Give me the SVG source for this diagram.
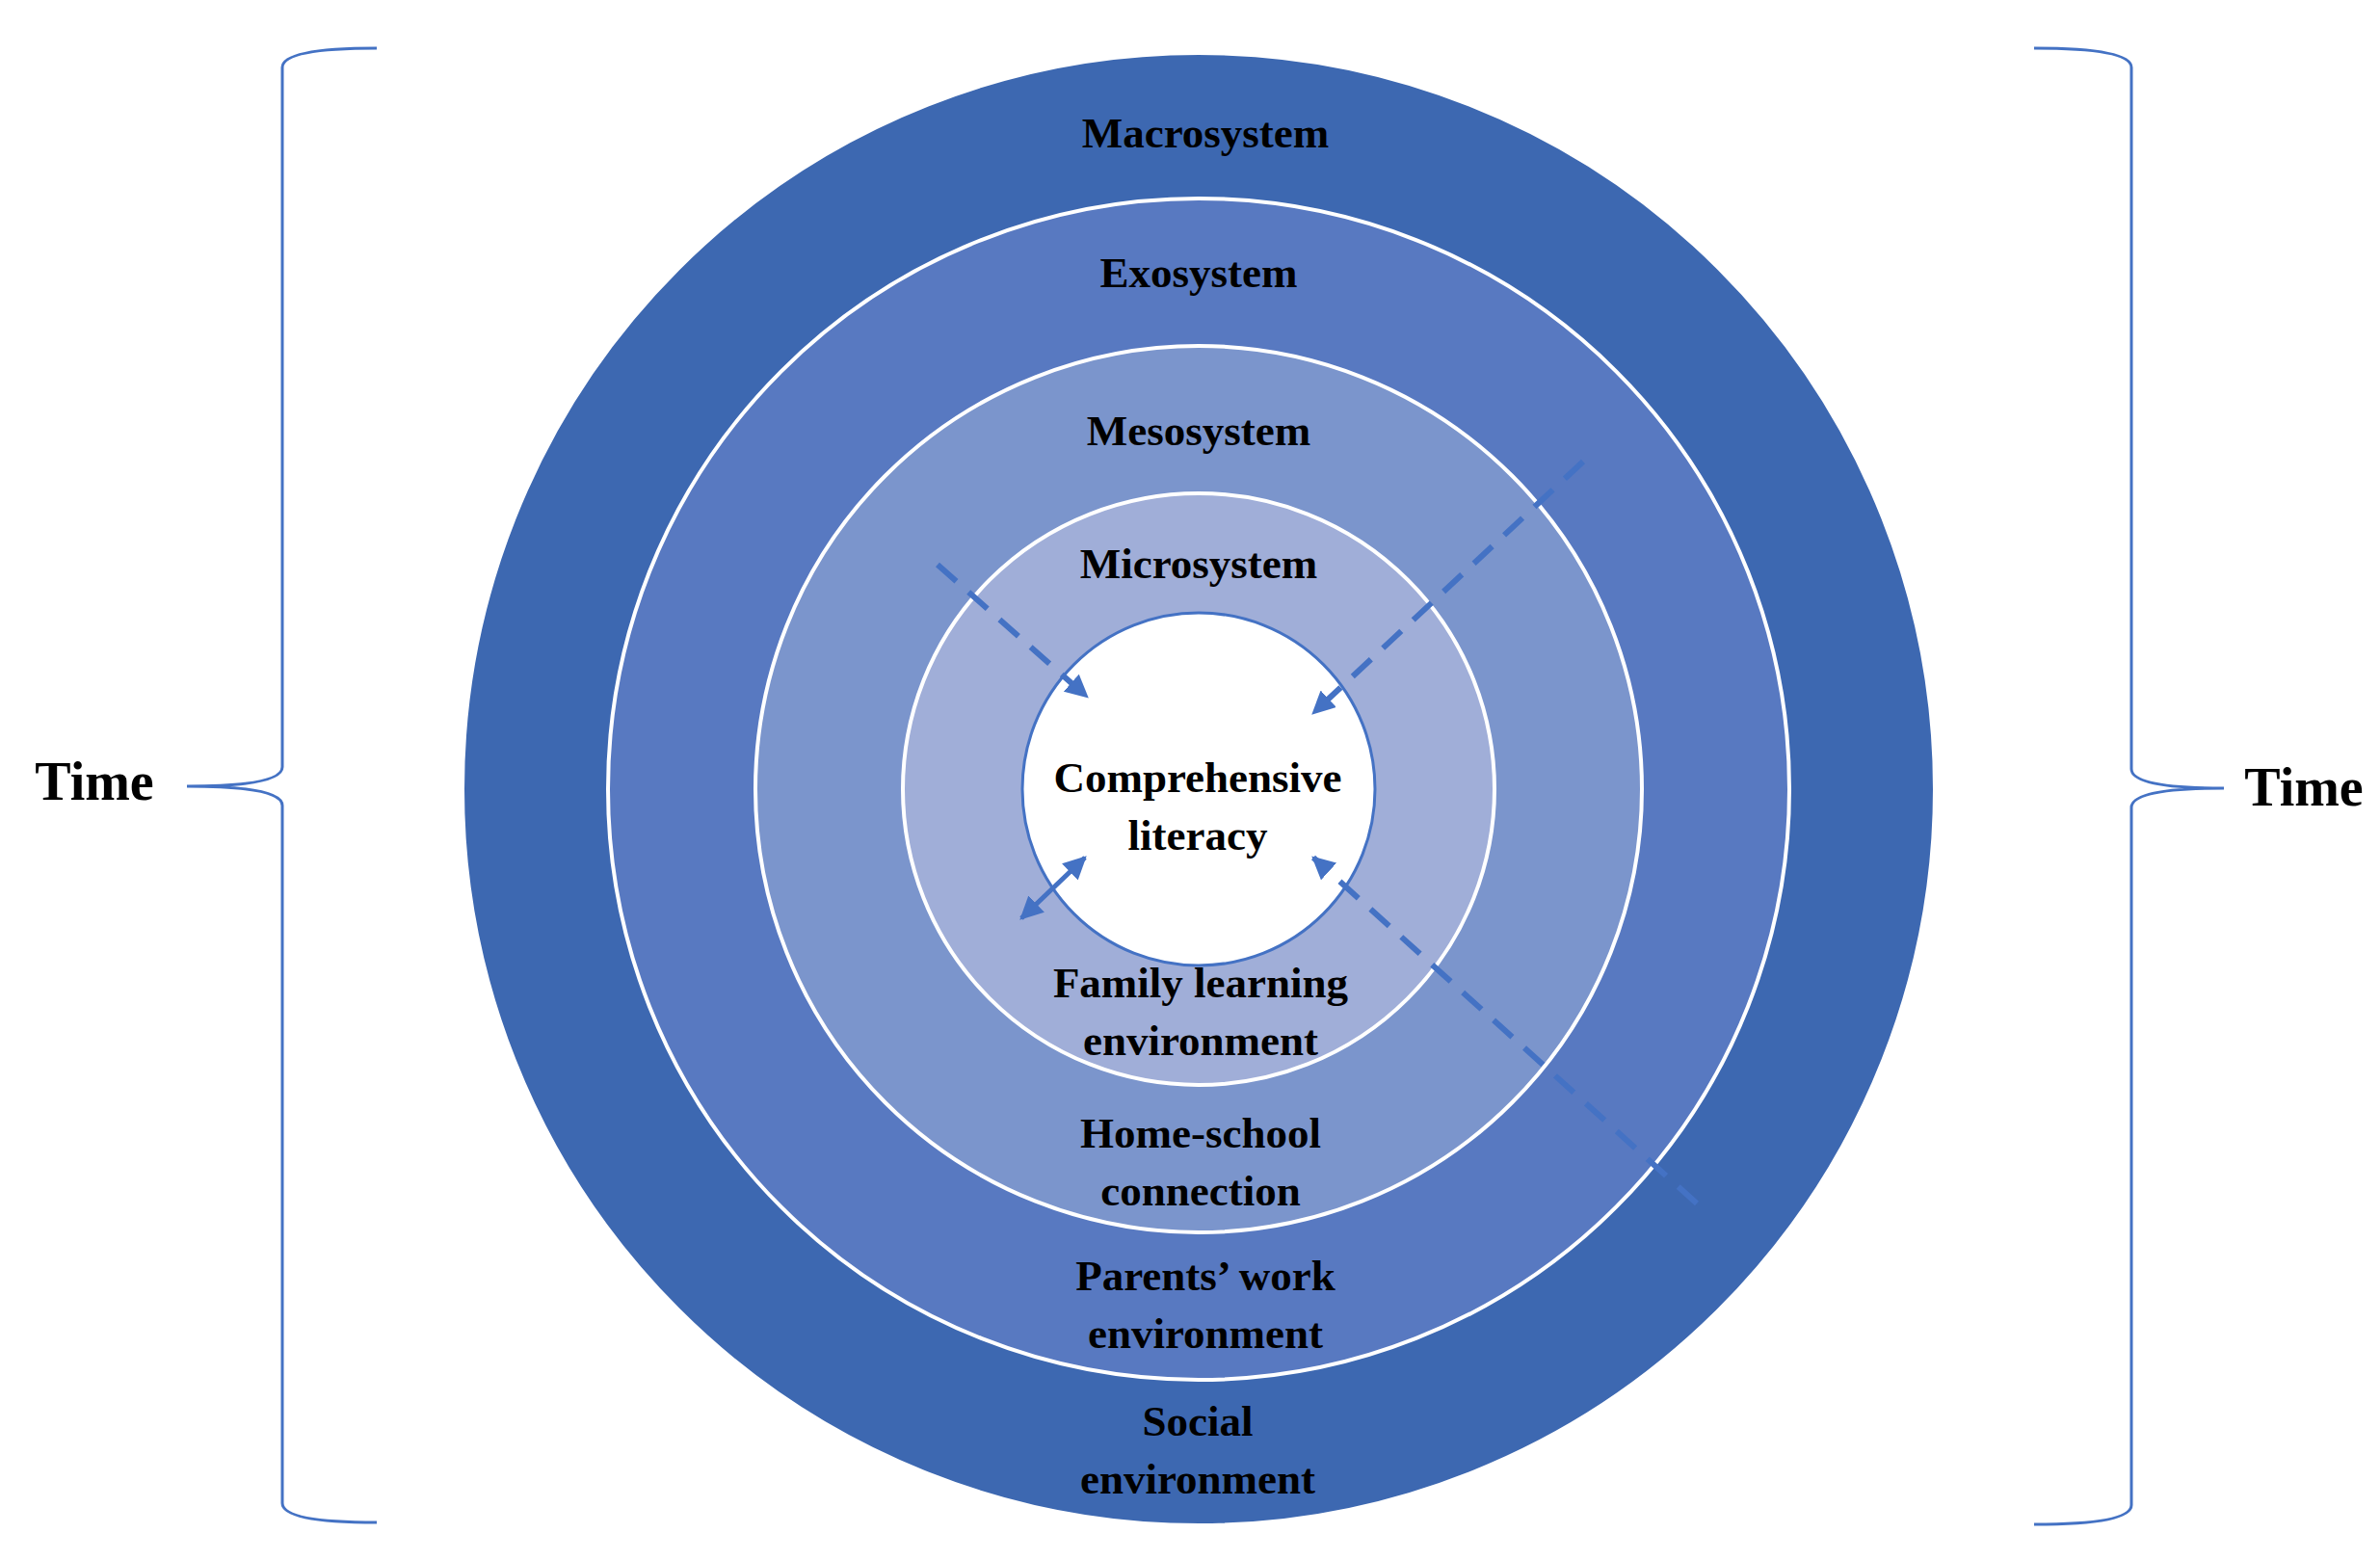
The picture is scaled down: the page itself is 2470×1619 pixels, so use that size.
<svg xmlns="http://www.w3.org/2000/svg" width="2470" height="1619" viewBox="0 0 2470 1619">
<style>
.t{font-family:"Liberation Serif","Times New Roman",serif;font-weight:bold;font-size:45px;text-anchor:middle;fill:#000}
.time{font-size:56px}
.ring{stroke:#fff;stroke-width:4}
.dash{stroke:#4472C4;stroke-width:6;fill:none;stroke-dasharray:26 17}
.br{stroke:#4472C4;stroke-width:3;fill:none}
</style>
<defs>
<marker id="ah" viewBox="0 0 10 10" refX="9" refY="5" markerWidth="24" markerHeight="24" markerUnits="userSpaceOnUse" orient="auto-start-reverse">
<path d="M0,0 L10,5 L0,10 z" fill="#4472C4"/>
</marker>
</defs>
<rect width="2470" height="1619" fill="#fff"/>
<g id="macrosystem"><circle class="ring" cx="1244" cy="819" r="764" fill="#3D68B1" stroke="none"/>
<text class="t" x="1251" y="153">Macrosystem</text>
<text class="t" x="1243" y="1490">Social</text><text class="t" x="1243" y="1550">environment</text></g>
<g id="exosystem"><circle class="ring" cx="1244" cy="819" r="613" fill="#5879C1"/>
<text class="t" x="1244" y="298">Exosystem</text>
<text class="t" x="1251" y="1339">Parents’ work</text><text class="t" x="1251" y="1399">environment</text></g>
<g id="mesosystem"><circle class="ring" cx="1244" cy="819" r="460" fill="#7B95CC"/>
<text class="t" x="1244" y="462">Mesosystem</text>
<text class="t" x="1246" y="1191">Home-school</text><text class="t" x="1246" y="1251">connection</text></g>
<g id="microsystem"><circle class="ring" cx="1244" cy="819" r="307" fill="#A0AED8"/>
<text class="t" x="1244" y="600">Microsystem</text>
<text class="t" x="1246" y="1035">Family learning</text><text class="t" x="1246" y="1095">environment</text></g>
<g id="literacy"><circle cx="1244" cy="819" r="183" fill="#fff" stroke="#4472C4" stroke-width="3"/>
<text class="t" x="1243" y="822">Comprehensive</text><text class="t" x="1243" y="882">literacy</text></g>
<g id="connectors">
<path class="dash" d="M973,586 L1128,723" marker-end="url(#ah)"/>
<path class="dash" d="M1643,479 L1363,740" marker-end="url(#ah)"/>
<path d="M1060,953 L1126,890" stroke="#4472C4" stroke-width="5" fill="none" marker-start="url(#ah)" marker-end="url(#ah)"/>
<path class="dash" d="M1761,1249 L1363,890" marker-end="url(#ah)"/>
</g>
<g id="time-left">
<path class="br" d="M391,50 Q293,50 293,70 L293,796 Q293,816 194,816 Q293,816 293,836 L293,1560 Q293,1580 391,1580"/>
<text class="t time" x="98" y="830">Time</text></g>
<g id="time-right">
<path class="br" d="M2111,50 Q2212,50 2212,70 L2212,798 Q2212,818 2308,818 Q2212,818 2212,838 L2212,1562 Q2212,1582 2111,1582"/>
<text class="t time" x="2391" y="836">Time</text></g>
</svg>
